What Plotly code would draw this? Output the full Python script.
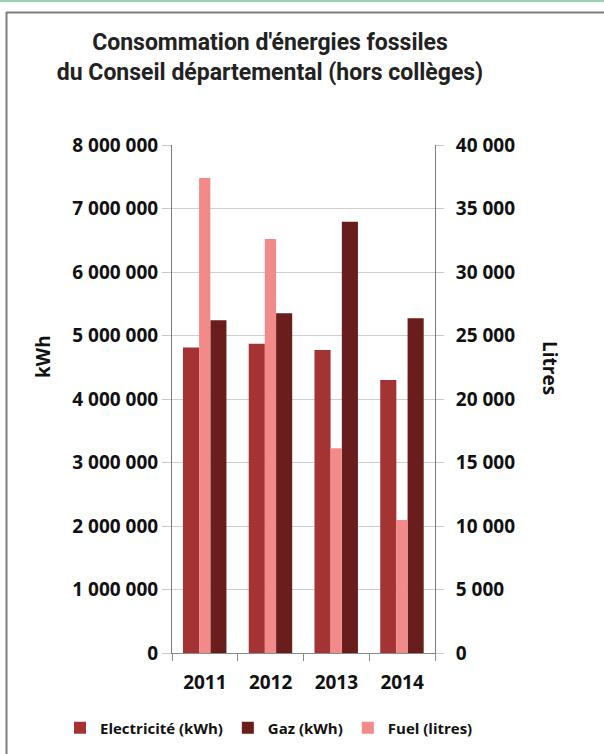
import plotly.graph_objects as go

years = ["2011", "2012", "2013", "2014"]
elec_kwh = [4810000, 4870000, 4770000, 4300000]
gaz_kwh = [5240000, 5350000, 6790000, 5270000]
fuel_litres = [37400, 32600, 16120, 10470]

left_ticks = [0, 1000000, 2000000, 3000000, 4000000, 5000000, 6000000, 7000000, 8000000]
right_ticks = [0, 5000, 10000, 15000, 20000, 25000, 30000, 35000, 40000]

C_ELEC = "#A43333"
C_GAZ = "#6A1D1D"
C_FUEL = "#F38A8A"

W, H = 604, 754
L, R, T, B = 172, 169, 145, 101
PW, PH = W - L - R, H - T - B


def px(x):
    return (x - L) / PW


def py(y):
    return (H - B - y) / PH


TICKFONT = dict(family="Open Sans", size=19, color="#111111", weight="bold")
LBLFONT = dict(family="Open Sans", size=19, color="#111111", weight="bold")

fig = go.Figure()
fig.add_trace(go.Bar(x=years, y=elec_kwh, name="Electricité (kWh)", marker_color=C_ELEC,
                     offset=-0.333, width=0.245, marker_line_width=0))
fig.add_trace(go.Bar(x=years, y=gaz_kwh, name="Gaz (kWh)", marker_color=C_GAZ,
                     offset=0.083, width=0.245, marker_line_width=0))
fig.add_trace(go.Bar(x=years, y=fuel_litres, name="Fuel (litres)", marker_color=C_FUEL,
                     offset=-0.088, width=0.171, marker_line_width=0, yaxis="y2"))

fig.update_layout(
    width=W, height=H,
    margin=dict(l=L, r=R, t=T, b=B, pad=0, autoexpand=False),
    paper_bgcolor="white", plot_bgcolor="white",
    separators=", ",
    barmode="overlay",
    showlegend=True,
    title=dict(text="Consommation d'énergies fossiles<br>du Conseil départemental (hors collèges)",
               x=270 / W, xanchor="center", xref="container",
               y=1 - 50 / H, yanchor="top", yref="container",
               font=dict(family="Roboto", size=23, color="#222222", weight="bold")),
    xaxis=dict(type="category", showgrid=False, showline=True, linecolor="#8a8a8a", linewidth=1,
               ticks="outside", tickson="boundaries", ticklen=7, tickcolor="#8a8a8a",
               tickfont=TICKFONT, ticklabelstandoff=12),
    yaxis=dict(range=[0, 8000000], tickvals=left_ticks, tickformat=",d", showgrid=True,
               gridcolor="#CFCFCF", gridwidth=1, showline=True, linecolor="#7a7a7a", linewidth=1,
               ticks="outside", ticklen=9, tickcolor="#C8C8C8", tickfont=TICKFONT, zeroline=False),
    yaxis2=dict(range=[0, 40000], tickvals=right_ticks, tickformat=",d", overlaying="y", side="right",
                showgrid=False, showline=True, linecolor="#7a7a7a", linewidth=1,
                ticks="outside", ticklen=8, tickcolor="#C8C8C8", tickfont=TICKFONT, zeroline=False,
                ticklabelstandoff=8),
    legend=dict(orientation="h", xref="paper", x=px(60), xanchor="left",
                yref="paper", y=py(728), yanchor="middle",
                font=dict(family="Open Sans", size=15, color="#111111", weight="bold"),
                itemwidth=30, traceorder="normal", bgcolor="rgba(0,0,0,0)"),
    annotations=[
        dict(text="kWh", x=px(43), y=py(357), xref="paper", yref="paper", showarrow=False,
             xanchor="center", yanchor="middle", textangle=-90, font=LBLFONT),
        dict(text="Litres", x=px(550), y=py(368), xref="paper", yref="paper", showarrow=False,
             xanchor="center", yanchor="middle", textangle=90, font=LBLFONT),
    ],
    shapes=[
        dict(type="line", xref="paper", yref="paper", x0=px(0), x1=px(W), y0=py(1), y1=py(1),
             line=dict(color="#9FD2B6", width=2)),
        dict(type="line", xref="paper", yref="paper", x0=px(6), x1=px(W), y0=py(12.5), y1=py(12.5),
             line=dict(color="#7f7f7f", width=2)),
        dict(type="line", xref="paper", yref="paper", x0=px(6.5), x1=px(6.5), y0=py(12), y1=py(H),
             line=dict(color="#7f7f7f", width=2)),
    ],
)

fig.write_html("out.html", config={"displayModeBar": False},
               post_script="document.body.style.margin='0';")
